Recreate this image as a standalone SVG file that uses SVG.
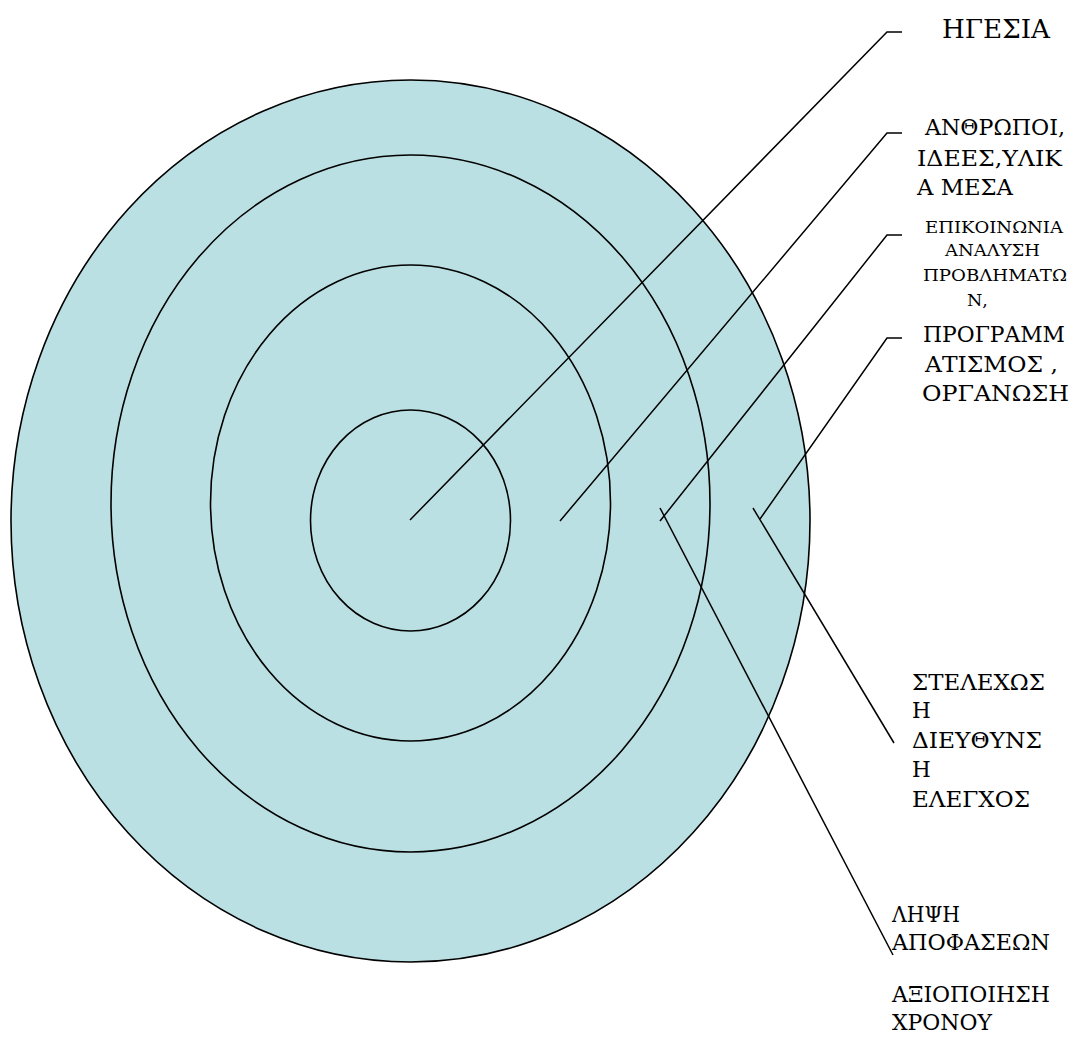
<svg xmlns="http://www.w3.org/2000/svg" width="1075" height="1044" viewBox="0 0 1075 1044">
  <style>
    .ring { fill: #BBE0E3; stroke: #000; stroke-width: 1.6; }
    .lead { fill: none; stroke: #000; stroke-width: 1.5; }
    text { font-family: "DejaVu Serif", "Liberation Serif", serif; fill: #000; }
    .t24 { font-size: 21.5px; }
    .t28 { font-size: 26px; }
    .t18 { font-size: 17.5px; }
  </style>
  <rect width="1075" height="1044" fill="#fff"/>
  <g id="ring-outer"><ellipse class="ring" cx="410.5" cy="521" rx="399.5" ry="441"/></g>
  <g id="ring-2"><ellipse class="ring" cx="410.5" cy="503.5" rx="299.5" ry="348.5"/></g>
  <g id="ring-3"><ellipse class="ring" cx="410.5" cy="503" rx="200" ry="238"/></g>
  <g id="ring-core"><ellipse class="ring" cx="410.5" cy="520.5" rx="100" ry="110.5"/></g>

  <g id="connectors">
    <polyline class="lead" points="410,520 887,32 902,32"/>
    <polyline class="lead" points="560,521 887,133 902,133"/>
    <polyline class="lead" points="660,521 887,235 902,235"/>
    <polyline class="lead" points="760,519 887,338 902,338"/>
    <line class="lead" x1="660" y1="508" x2="893" y2="955"/>
    <line class="lead" x1="753" y1="508" x2="894" y2="743"/>
  </g>

  <g id="label-igesia"><text class="t28" x="942" y="38" textLength="108" lengthAdjust="spacingAndGlyphs">ΗΓΕΣΙΑ</text></g>
  <g id="label-anthropoi">
    <text class="t24" x="925" y="135" textLength="140" lengthAdjust="spacingAndGlyphs">ΑΝΘΡΩΠΟΙ,</text>
    <text class="t24" x="917" y="166" textLength="145" lengthAdjust="spacingAndGlyphs">ΙΔΕΕΣ,ΥΛΙΚ</text>
    <text class="t24" x="917" y="195" textLength="96" lengthAdjust="spacingAndGlyphs">Α ΜΕΣΑ</text>
  </g>
  <g id="label-epikoinonia">
    <text class="t18" x="925" y="233" textLength="138" lengthAdjust="spacingAndGlyphs">ΕΠΙΚΟΙΝΩΝΙΑ</text>
    <text class="t18" x="945" y="256" textLength="95" lengthAdjust="spacingAndGlyphs">ΑΝΑΛΥΣΗ</text>
    <text class="t18" x="923" y="281" textLength="144" lengthAdjust="spacingAndGlyphs">ΠΡΟΒΛΗΜΑΤΩ</text>
    <text class="t18" x="967" y="306">Ν,</text>
  </g>
  <g id="label-programmatismos">
    <text class="t24" x="923" y="342" textLength="142" lengthAdjust="spacingAndGlyphs">ΠΡΟΓΡΑΜΜ</text>
    <text class="t24" x="925" y="372" textLength="133" lengthAdjust="spacingAndGlyphs">ΑΤΙΣΜΟΣ ,</text>
    <text class="t24" x="922" y="401" textLength="147" lengthAdjust="spacingAndGlyphs">ΟΡΓΑΝΩΣΗ</text>
  </g>
  <g id="label-stelechosi">
    <text class="t24" x="912" y="690" textLength="133" lengthAdjust="spacingAndGlyphs">ΣΤΕΛΕΧΩΣ</text>
    <text class="t24" x="912" y="718">Η</text>
    <text class="t24" x="912" y="748" textLength="130" lengthAdjust="spacingAndGlyphs">ΔΙΕΥΘΥΝΣ</text>
    <text class="t24" x="912" y="777">Η</text>
    <text class="t24" x="912" y="807" textLength="118" lengthAdjust="spacingAndGlyphs">ΕΛΕΓΧΟΣ</text>
  </g>
  <g id="label-lipsi">
    <text class="t24" x="892" y="922" textLength="68" lengthAdjust="spacingAndGlyphs">ΛΗΨΗ</text>
    <text class="t24" x="892" y="950" textLength="158" lengthAdjust="spacingAndGlyphs">ΑΠΟΦΑΣΕΩΝ</text>
  </g>
  <g id="label-axiopoiisi">
    <text class="t24" x="892" y="1002" textLength="158" lengthAdjust="spacingAndGlyphs">ΑΞΙΟΠΟΙΗΣΗ</text>
    <text class="t24" x="892" y="1030" textLength="100" lengthAdjust="spacingAndGlyphs">ΧΡΟΝΟΥ</text>
  </g>
</svg>
